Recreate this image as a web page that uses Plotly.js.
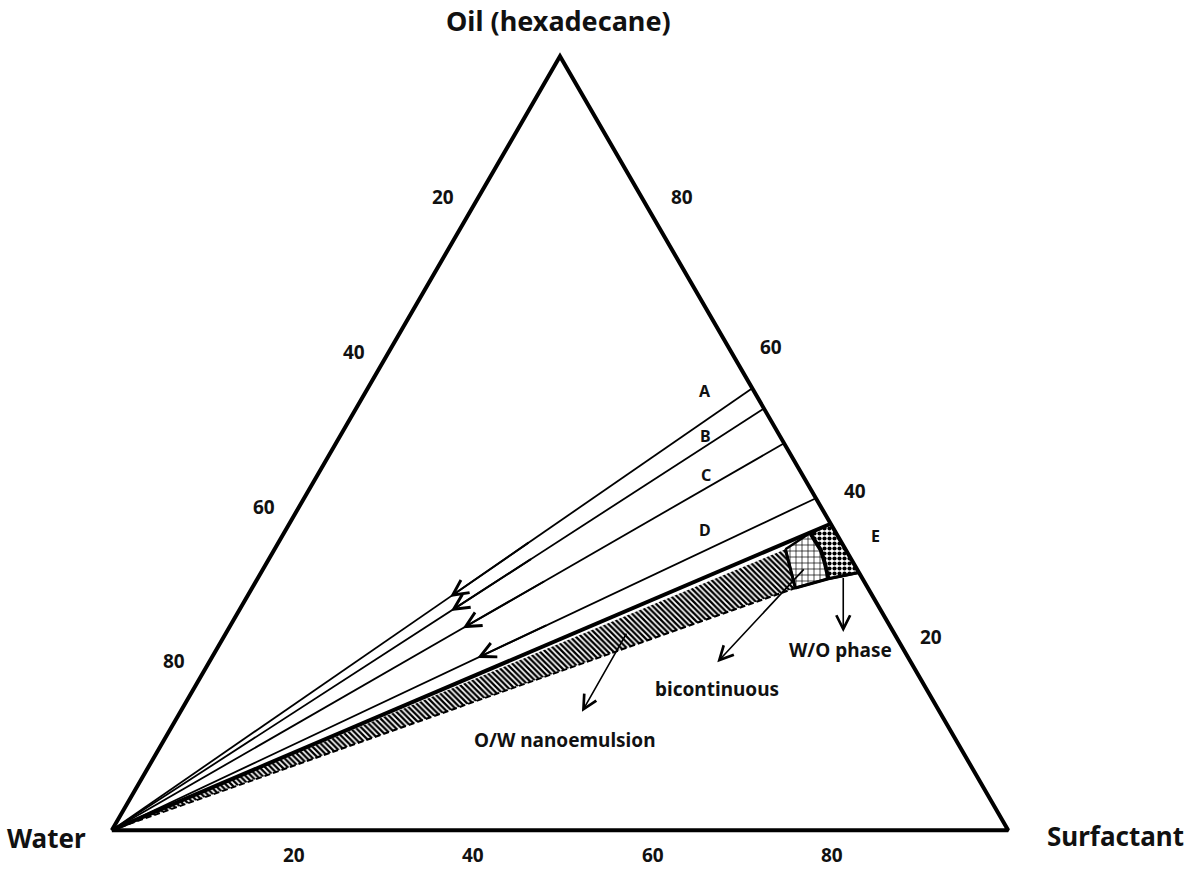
<!DOCTYPE html>
<html><head><meta charset="utf-8">
<script src="https://cdn.plot.ly/plotly-3.0.1.min.js"></script>
<style>html,body{margin:0;padding:0;background:#fff}</style>
</head><body><div id="chart" style="width:1193px;height:871px"></div>
<script>
// All compositions in % : [oil, surfactant]  (water = 100 - oil - surfactant)
const vertexNames = ['Oil (hexadecane)', 'Water', 'Surfactant'];
const tickValues = [20, 40, 60, 80];

// dilution lines A-D: oil % where they meet the oil-surfactant edge (water = 0)
const lineNames = ['A', 'B', 'C', 'D'];
const lineOilAtEdge = [57.1, 54.5, 50.0, 42.9];
// direction arrows drawn on each line (water % at head and tail)
const arrowHeadWater = [47.2, 48.0, 47.8, 48.1];
const arrowTailWater = [34.7, 35.5, 35.5, 38.1];
// line label positions
const lineLabelOil = [56.7, 51.0, 45.9, 38.8];
const lineLabelSurf = [37.8, 40.7, 43.3, 46.8];

// E band: oil % at the oil-surfactant edge for the upper and lower boundary
const bandName = 'E';
const bandOilTop = 39.6;
const bandOilBottom = 33.3;
const bandLabelOil = 38.0, bandLabelSurf = 66.2;
// end of the O/W nanoemulsion region (top corner, bottom corner)
const owEndOil = [36.3, 31.3];
const owEndSurf = [57.0, 60.6];
// curved boundary between bicontinuous and W/O regions (top -> bottom)
const boundaryOil = [38.4, 36.2, 34.5, 32.5];
const boundarySurf = [58.7, 61.0, 62.3, 63.7];

// region callouts
const calloutText = ['O/W nanoemulsion', 'bicontinuous', 'W/O phase'];
const calloutTailOil = [25.6, 33.9, 32.8];
const calloutTailSurf = [44.7, 60.4, 65.2];
const calloutHeadOil = [15.3, 21.7, 25.6];
const calloutHeadSurf = [44.8, 56.7, 68.8];
const calloutLabelOil = [11.6, 18.2, 23.3];
const calloutLabelSurf = [44.8, 58.4, 69.6];

// ---- ternary -> cartesian
const S3 = Math.sqrt(3) / 2;
const cx = (oil, surf) => surf + oil / 2;
const cy = (oil) => oil * S3;
// point on the dilution ray that ends at oil% oE (water 0), at water % w
const rayPt = (oE, w) => { const f = 1 - w / 100; return [oE * f, (100 - oE) * f]; };
const toXY = (pts) => ({ x: pts.map(p => cx(p[0], p[1])), y: pts.map(p => cy(p[0])) });

const FONT = 'Noto Sans, Open Sans, Arial, sans-serif';
const traces = [];
const seg = (pts, line) => { const q = toXY(pts); traces.push({ type: 'scatter', mode: 'lines', x: q.x, y: q.y, line, hoverinfo: 'skip' }); };

const W = [0, 0];
const tOW = [owEndOil[0], owEndSurf[0]];
const bOW = [owEndOil[1], owEndSurf[1]];
const tE = rayPt(bandOilTop, 0), bE = rayPt(bandOilBottom, 0);
const curve = boundaryOil.map((o, i) => [o, boundarySurf[i]]);

// O/W nanoemulsion (hatched)
let p = toXY([W, tOW, bOW, W]);
traces.push({ type: 'scatter', mode: 'lines', x: p.x, y: p.y, fill: 'toself', fillcolor: 'white',
  fillpattern: { shape: '\\', fgcolor: 'black', bgcolor: 'white', size: 4, solidity: 0.58 },
  line: { width: 0 }, hoverinfo: 'skip' });
// bicontinuous (brick-like)
p = toXY([tOW].concat(curve, [bOW, tOW]));
traces.push({ type: 'scatter', mode: 'lines', x: p.x, y: p.y, fill: 'toself', fillcolor: 'white',
  fillpattern: { shape: '+', fgcolor: 'black', bgcolor: 'white', size: 6, solidity: 0.22 },
  line: { width: 2.5, color: 'black' }, hoverinfo: 'skip' });
// W/O (checker)
p = toXY([curve[0], tE, bE].concat(curve.slice().reverse()));
traces.push({ type: 'scatter', mode: 'lines', x: p.x, y: p.y, fill: 'toself', fillcolor: 'white',
  fillpattern: { shape: '.', fgcolor: 'black', bgcolor: 'white', size: 5, solidity: 0.55 },
  line: { width: 2.5, color: 'black' }, hoverinfo: 'skip' });

// band borders
seg([W, tE], { width: 4, color: 'black' });
seg([tOW, bOW], { width: 3, color: 'black' });
seg(curve, { width: 4, color: 'black' });
seg([bOW, curve[curve.length - 1], bE], { width: 3, color: 'black' });
seg([W, bOW], { width: 2, color: 'black', dash: '6px,3px' });

// dilution lines A-D
lineOilAtEdge.forEach((oE) => seg([W, rayPt(oE, 0)], { width: 1.8, color: 'black' }));

// triangle
seg([[0, 0], [100, 0], [0, 100], [0, 0]], { width: 4, color: 'black' });

const ann = [];
const txt = (x, y, text, size, xs, ys) => ({ x, y, xref: 'x', yref: 'y', text, showarrow: false,
  font: { family: FONT, size, color: '#111' }, xshift: xs || 0, yshift: ys || 0, xanchor: 'center', yanchor: 'middle' });

// vertex labels
ann.push(txt(cx(100, 0), cy(100), '<b>' + vertexNames[0] + '</b>', 27, -2, 36));
ann.push(txt(cx(0, 0), cy(0), '<b>' + vertexNames[1] + '</b>', 26, -65, -8));
ann.push(txt(cx(0, 100), cy(0), '<b>' + vertexNames[2] + '</b>', 26, 107, -6));

// tick labels
const rightNudge = [[12, 38], [26, 30], [32, 19], [32, 14]];
tickValues.forEach((v, i) => {
  ann.push(txt(cx(100 - v, 0), cy(100 - v), '<b>' + v + '</b>', 19, -27, 14));   // water, left edge
  ann.push(txt(cx(0, v), cy(0), '<b>' + v + '</b>', 19, 3, -25));                 // surfactant, bottom
  ann.push(txt(cx(v, 100 - v), cy(v), '<b>' + v + '</b>', 19, rightNudge[i][0], rightNudge[i][1])); // oil, right
});

// line labels
lineNames.forEach((n, i) => ann.push(txt(cx(lineLabelOil[i], lineLabelSurf[i]), cy(lineLabelOil[i]), '<b>' + n + '</b>', 16)));
ann.push(txt(cx(bandLabelOil, bandLabelSurf), cy(bandLabelOil), '<b>' + bandName + '</b>', 16));

// arrows (open chevron heads)
const arrow = (hx, hy, tx, ty, w, s) => ({ x: hx, y: hy, ax: tx, ay: ty, xref: 'x', yref: 'y', axref: 'x', ayref: 'y',
  text: '', showarrow: true, arrowhead: 5, arrowsize: s, arrowwidth: w, arrowcolor: 'black', standoff: 0, startstandoff: 0 });
lineOilAtEdge.forEach((oE, i) => {
  const h = rayPt(oE, arrowHeadWater[i]), t = rayPt(oE, arrowTailWater[i]);
  ann.push(arrow(cx(h[0], h[1]), cy(h[0]), cx(t[0], t[1]), cy(t[0]), 2, 1.5));
});
calloutText.forEach((s, i) => {
  ann.push(arrow(cx(calloutHeadOil[i], calloutHeadSurf[i]), cy(calloutHeadOil[i]),
                 cx(calloutTailOil[i], calloutTailSurf[i]), cy(calloutTailOil[i]), 1.6, 1.7));
  ann.push(txt(cx(calloutLabelOil[i], calloutLabelSurf[i]), cy(calloutLabelOil[i]), '<b>' + s + '</b>', 19));
});

const layout = {
  width: 1193, height: 871,
  margin: { l: 67, r: 140, t: 26, b: 14, autoexpand: false },
  paper_bgcolor: 'white', plot_bgcolor: 'white',
  showlegend: false,
  xaxis: { range: [-5, 105], visible: false, fixedrange: true },
  yaxis: { range: [-3, 90], visible: false, fixedrange: true },
  annotations: ann
};
Plotly.newPlot('chart', traces, layout, { staticPlot: true });
</script></body></html>
